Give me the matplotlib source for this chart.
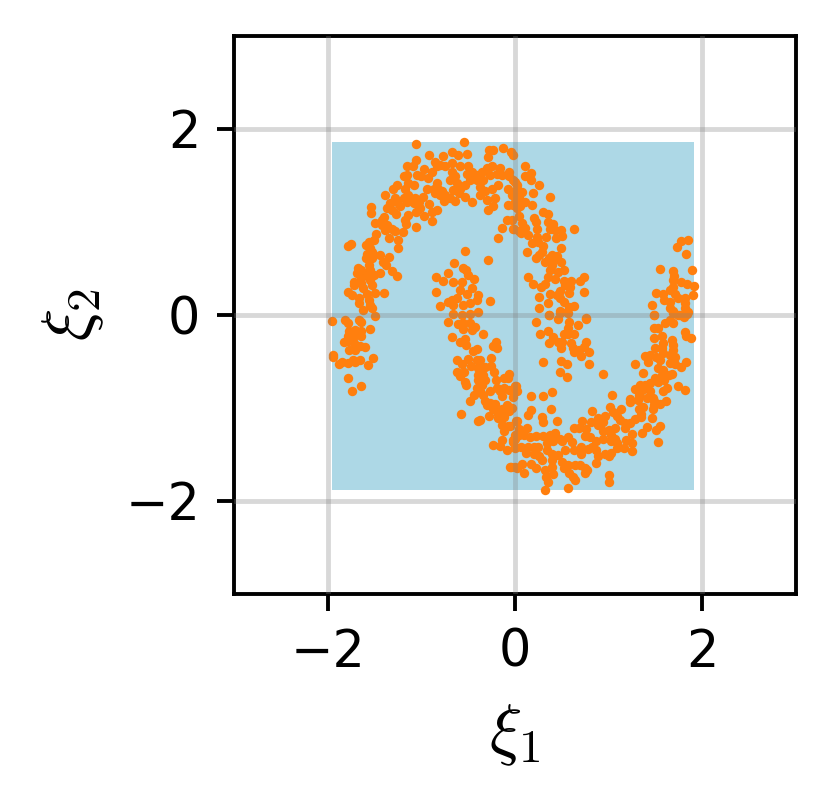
"""
Two moons sample drawn over the rectangular support of the data.
"""

import matplotlib
matplotlib.use('Agg')
import matplotlib.pyplot as plt
import matplotlib.patches as patches
import numpy as np

# Points, (xi_1, xi_2)
upper_left = [
    (-1.06,1.84),(-0.54,1.86),(-0.92,1.72),(-0.77,1.71),(-1.06,1.67),(-0.67,1.75),(-0.61,1.72),(-0.51,1.73),
    (-0.28,1.77),(-0.23,1.77),(-0.29,1.70),(-0.13,1.80),(-0.04,1.75),(-0.02,1.72),(-1.15,1.60),(-1.09,1.60),
    (-0.85,1.64),(-0.80,1.61),(-0.97,1.57),(-1.05,1.51),(-1.00,1.49),(-0.93,1.47),(-0.89,1.54),(-0.83,1.60),
    (-0.75,1.60),(-0.67,1.63),(-0.59,1.60),(-0.50,1.60),(-0.67,1.54),(-0.64,1.49),(-0.69,1.45),(-0.62,1.42),
    (-0.51,1.52),(-0.46,1.54),(-0.41,1.51),(-0.35,1.54),(-0.30,1.58),(-0.25,1.60),(-0.16,1.58),(-0.19,1.52),
    (-0.14,1.51),(-0.27,1.51),(-0.34,1.45),(-0.41,1.45),(-0.48,1.45),(-0.53,1.40),(-0.59,1.36),(-0.66,1.34),
    (-0.60,1.31),(-0.53,1.27),(-0.46,1.22),(-0.37,1.38),(-0.32,1.33),(-0.37,1.29),(-0.30,1.24),(-0.21,1.26),
    (-0.18,1.40),(-0.25,1.36),(-0.23,1.17),(-0.29,1.13),(-0.06,1.54),(-0.06,1.49),(0.00,1.43),(-0.07,1.36),
    (0.02,1.36),(-0.03,1.29),(0.00,1.22),(-0.07,1.18),(0.02,1.15),(-0.09,1.02),(-0.03,1.02),(-0.14,0.94),
    (-0.02,0.93),(-0.18,0.83),(0.04,0.90),(-1.15,1.51),(-1.19,1.49),(-1.14,1.42),(-1.08,1.40),(-1.26,1.40),
    (-1.30,1.35),(-1.39,1.29),(-0.94,1.36),(-0.83,1.42),(-0.87,1.36),(-0.82,1.36),(-0.85,1.31),(-0.78,1.33),
    (-0.75,1.29),(-0.80,1.29),(-0.76,1.23),(-0.69,1.26),(-0.64,1.23),(-1.17,1.35),(-1.14,1.29),(-1.19,1.26),
    (-1.12,1.26),(-1.07,1.26),(-1.15,1.22),(-1.08,1.20),(-1.03,1.22),(-0.98,1.27),(-0.92,1.19),(-1.01,1.15),
    (-1.06,1.11),(-0.89,1.11),(-0.83,1.13),(-0.97,1.06),(-0.89,1.01),(-1.14,1.08),(-1.17,1.02),(-1.16,0.98),
    (-1.06,0.95),(-1.28,1.26),(-1.33,1.20),(-1.26,1.22),(-1.23,1.17),(-1.37,1.15),(-1.31,1.13),(-1.27,1.09),
    (-1.40,1.05),(-1.54,1.16),(-1.54,1.10),(-1.50,0.99),(-1.42,1.02),(-1.42,0.97),(-1.37,0.97),(-1.39,0.91),
    (-1.31,0.93),(-1.28,0.90),(-1.20,0.89),(-1.35,0.83),(-1.25,0.81),(-1.25,0.72),(-1.48,0.87),(-1.51,0.81),
    (-1.56,0.79),(-1.59,0.75),(-1.55,0.72),(-1.75,0.76),(-1.78,0.74),(-1.58,0.66),(-1.53,0.68),(-1.53,0.61),
    (-1.59,0.61),(-1.44,0.64),(-1.35,0.62),(-1.41,0.57),(-1.38,0.54),(-1.56,0.54),(-1.68,0.51),(-1.64,0.48),
    (-1.55,0.48),(-1.31,0.47),(-1.26,0.42),(-1.69,0.45),(-1.58,0.43),(-1.51,0.43),(-1.44,0.45),(-1.64,0.40),
    (-1.55,0.38),(-1.72,0.36),(-1.64,0.34),(-1.53,0.32),(-1.72,0.32),(-1.62,0.29),(-1.78,0.25),(-1.74,0.22),
    (-1.58,0.23),(-1.49,0.24),(-1.40,0.24),(-1.67,0.18),(-1.56,0.16),(-1.67,0.13),(-1.55,0.11),(-1.62,0.05),
    (-1.53,0.07),(-1.50,-0.01),
]
upper_left_low = [
    (-1.95,-0.06),(-1.81,-0.05),(-1.78,-0.09),(-1.67,-0.05),(-1.64,-0.08),(-1.55,-0.15),(-1.77,-0.17),(-1.71,-0.16),
    (-1.64,-0.17),(-1.78,-0.23),(-1.72,-0.23),(-1.64,-0.23),(-1.83,-0.29),(-1.78,-0.28),(-1.72,-0.30),(-1.65,-0.33),
    (-1.60,-0.34),(-1.71,-0.38),(-1.77,-0.38),(-1.94,-0.43),(-1.94,-0.45),(-1.52,-0.46),(-1.65,-0.48),(-1.73,-0.48),
    (-1.85,-0.50),(-1.78,-0.52),(-1.71,-0.51),(-1.88,-0.53),(-1.57,-0.54),(-1.78,-0.68),(-1.64,-0.76),(-1.74,-0.82),
]
upper_right = [
    (0.11,1.60),(0.17,1.53),(0.11,1.49),(0.17,1.45),(0.26,1.40),(0.02,1.40),(-0.02,1.45),(0.08,1.32),
    (0.19,1.31),(0.37,1.27),(0.04,1.27),(0.11,1.22),(0.18,1.18),(0.05,1.17),(-0.02,1.18),(0.30,1.11),
    (0.35,1.09),(0.04,1.06),(0.20,1.04),(0.22,1.00),(0.35,1.00),(0.41,0.98),(0.07,0.99),(0.11,0.94),
    (-0.01,0.92),(0.06,0.88),(0.14,0.86),(0.23,0.92),(0.37,0.92),(0.43,0.91),(0.49,0.91),(0.63,0.92),
    (0.23,0.84),(0.33,0.84),(0.50,0.85),(0.44,0.83),(0.18,0.77),(0.25,0.78),(0.30,0.74),(0.49,0.72),
    (0.13,0.68),(0.29,0.68),(0.26,0.65),(0.22,0.61),(0.39,0.65),(0.45,0.63),(0.36,0.61),(0.41,0.59),
    (0.32,0.57),(0.49,0.57),(0.39,0.54),(0.37,0.48),(0.52,0.48),(0.46,0.46),(0.14,0.41),(0.35,0.41),
    (0.43,0.39),(0.74,0.41),(0.69,0.37),(0.52,0.37),(0.60,0.37),(0.19,0.33),(0.32,0.33),(0.28,0.30),
    (0.53,0.32),(0.59,0.30),(0.48,0.26),(0.37,0.23),(0.58,0.24),(0.74,0.25),(0.45,0.21),(0.26,0.19),
    (0.48,0.18),(0.52,0.14),(0.35,0.13),(0.26,0.08),(0.63,0.10),(0.58,0.09),(0.48,0.04),(0.36,0.00),
    (0.56,0.03),(0.76,-0.03),(0.22,-0.07),(0.36,-0.00),(0.48,0.02),(0.57,0.02),(0.58,-0.07),(0.67,-0.11),
    (0.76,-0.04),(0.46,-0.04),(0.35,-0.17),(0.27,-0.20),(0.57,-0.14),(0.52,-0.20),(0.57,-0.20),(0.63,-0.20),
    (0.41,-0.24),(0.36,-0.30),(0.46,-0.29),(0.50,-0.29),(0.49,-0.36),(0.60,-0.30),(0.62,-0.36),(0.76,-0.29),
    (0.74,-0.34),(0.68,-0.38),(0.63,-0.40),(0.70,-0.44),(0.79,-0.40),(0.30,-0.50),(0.49,-0.49),(0.56,-0.53),
    (0.79,-0.53),(0.48,-0.61),(0.56,-0.67),(0.94,-0.63),
]
inner_top = [
    (-0.53,0.69),(-0.29,0.59),(-0.65,0.56),(-0.56,0.51),(-0.52,0.48),(-0.71,0.45),(-0.84,0.41),(-0.77,0.37),
    (-0.50,0.43),(-0.44,0.39),(-0.66,0.35),(-0.57,0.36),(-0.84,0.25),(-0.46,0.29),(-0.59,0.27),(-0.51,0.23),
    (-0.62,0.18),(-0.67,0.16),(-0.71,0.14),(-0.39,0.22),(-0.41,0.16),(-0.27,0.15),(-0.48,0.13),(-0.55,0.11),
    (-0.66,0.11),(-0.80,0.10),(-0.66,0.01),(-0.57,0.00),(-0.48,0.01),(-0.39,0.03),
]
inner_low = [
    (-0.71,-0.07),(-0.61,-0.10),(-0.55,-0.09),(-0.48,-0.09),(-0.43,-0.13),(-0.55,-0.15),(-0.46,-0.16),(-0.34,-0.20),
    (-0.67,-0.24),(-0.59,-0.29),(-0.53,-0.26),(-0.52,-0.32),(-0.20,-0.29),(-0.23,-0.33),(-0.19,-0.35),(-0.41,-0.37),
    (-0.45,-0.39),(-0.50,-0.47),(-0.62,-0.48),(-0.57,-0.53),(-0.41,-0.48),(-0.37,-0.48),(-0.26,-0.46),(-0.47,-0.55),
    (-0.26,-0.55),(-0.32,-0.56),(-0.39,-0.57),(-0.62,-0.61),(-0.54,-0.61),(-0.59,-0.66),(-0.22,-0.61),(-0.39,-0.65),
    (-0.34,-0.65),(-0.06,-0.63),(-0.39,-0.70),(-0.32,-0.70),(-0.12,-0.68),(-0.08,-0.68),(-0.20,-0.70),(-0.53,-0.72),
    (-0.52,-0.75),(-0.35,-0.75),(-0.41,-0.78),(-0.19,-0.78),(-0.12,-0.78),(-0.06,-0.81),(0.01,-0.76),(0.02,-0.82),
    (-0.37,-0.82),(-0.27,-0.82),(-0.16,-0.82),(-0.44,-0.86),(-0.34,-0.86),(-0.14,-0.87),(-0.02,-0.88),(-0.48,-0.93),
    (-0.32,-0.93),(-0.27,-0.95),(-0.21,-0.96),(-0.09,-0.97),(-0.30,-0.97),(-0.24,-1.01),(-0.14,-1.01),(-0.03,-1.00),
    (-0.06,-1.03),(-0.58,-1.06),(-0.28,-1.09),(-0.18,-1.06),(-0.12,-1.10),(-0.18,-1.11),(-0.37,-1.13),(-0.40,-1.14),
    (0.02,-1.14),(-0.14,-1.18),(-0.07,-1.19),(-0.12,-1.25),(0.04,-1.24),(-0.14,-1.34),(0.00,-1.33),(0.04,-1.29),
    (-0.02,-1.37),(-0.23,-1.40),(-0.16,-1.41),(-0.09,-1.45),(0.00,-1.42),(-0.04,-1.63),(0.02,-1.65),
]
bottom_band = [
    (0.00,-0.76),(-0.02,-0.82),(0.17,-0.87),(0.30,-0.87),(0.40,-0.83),(-0.04,-1.00),(0.17,-1.02),(0.14,-1.07),
    (0.38,-1.01),(0.29,-1.10),(0.30,-1.15),(0.01,-1.14),(0.45,-1.14),(-0.05,-1.19),(0.04,-1.23),(0.13,-1.22),
    (0.05,-1.28),(0.10,-1.29),(0.16,-1.31),(0.00,-1.29),(0.22,-1.30),(0.30,-1.30),(0.37,-1.29),(0.43,-1.27),
    (0.48,-1.33),(0.57,-1.31),(0.50,-1.36),(0.41,-1.36),(0.34,-1.38),(0.25,-1.42),(0.20,-1.42),(0.14,-1.42),
    (0.06,-1.42),(-0.02,-1.34),(0.00,-1.43),(0.12,-1.48),(0.20,-1.49),(0.26,-1.52),(0.34,-1.45),(0.39,-1.49),
    (0.46,-1.50),(0.53,-1.45),(0.61,-1.37),(0.63,-1.45),(0.70,-1.49),(0.70,-1.42),(0.78,-1.44),(0.63,-1.22),
    (0.68,-1.22),(0.76,-1.23),(0.71,-1.14),(0.82,-1.03),(0.81,-1.15),(0.75,-1.30),(0.80,-1.31),(0.86,-1.36),
    (0.82,-1.42),(0.87,-1.45),(0.89,-1.52),(0.87,-1.59),(0.96,-1.49),(1.00,-1.52),(1.03,-1.48),(0.89,-1.11),
    (0.96,-1.09),(0.89,-1.18),(0.94,-1.15),(1.01,-0.99),(1.05,-1.04),(1.09,-1.09),(1.13,-1.01),(1.04,-0.86),
    (1.12,-1.13),(1.17,-1.16),(1.17,-1.22),(1.23,-1.16),(1.28,-1.12),(0.94,-1.25),(1.00,-1.24),(1.07,-1.22),
    (1.03,-1.29),(0.94,-1.33),(1.07,-1.33),(1.09,-1.38),(1.03,-1.36),(1.16,-1.43),(1.09,-1.43),(1.18,-1.34),
    (1.25,-1.28),(1.25,-1.38),(1.25,-1.46),(1.36,-1.27),(1.41,-1.20),(1.35,-1.06),(1.35,-1.10),(1.32,-1.01),
    (1.37,-0.99),(1.47,-1.01),(1.48,-0.97),(1.46,-1.11),(1.51,-1.24),(1.55,-1.19),(1.53,-1.37),(0.07,-1.60),
    (0.00,-1.63),(-0.05,-1.63),(0.10,-1.70),(0.17,-1.60),(0.22,-1.64),(0.29,-1.56),(0.39,-1.56),(0.39,-1.63),
    (0.32,-1.67),(0.33,-1.74),(0.41,-1.71),(0.35,-1.80),(0.32,-1.88),(0.50,-1.58),(0.52,-1.64),(0.57,-1.61),
    (0.64,-1.61),(0.69,-1.61),(0.58,-1.70),(0.62,-1.74),(0.64,-1.77),(0.75,-1.65),(0.77,-1.67),(0.75,-1.70),
    (1.00,-1.72),(1.00,-1.80),(0.57,-1.86),
]
right_arc = [
    (1.28,-0.53),(1.37,-0.62),(1.39,-0.44),(1.44,-0.43),(1.42,-0.50),(1.49,-0.36),(1.51,-0.45),(1.57,-0.23),
    (1.48,-0.25),(1.58,-0.30),(1.57,-0.36),(1.58,-0.41),(1.55,-0.48),(1.53,-0.57),(1.58,-0.59),(1.57,-0.65),
    (1.49,-0.68),(1.53,-0.72),(1.59,-0.70),(1.44,-0.73),(1.39,-0.75),(1.33,-0.75),(1.28,-0.80),(1.36,-0.81),
    (1.44,-0.82),(1.32,-0.86),(1.23,-0.90),(1.31,-0.91),(1.23,-0.94),(1.41,-0.89),(1.47,-0.89),(1.48,-0.93),
    (1.58,-0.82),(1.62,-0.78),(1.61,-0.92),(1.55,-0.96),(1.74,-0.76),(1.81,-0.81),(1.68,-0.63),(1.64,-0.65),
    (1.71,-0.53),(1.77,-0.56),(1.83,-0.50),(1.65,-0.52),(1.71,-0.45),(1.65,-0.43),(1.69,-0.38),(1.69,-0.32),
    (1.68,-0.27),(1.81,-0.18),(1.83,-0.23),(1.88,-0.25),(1.48,-0.14),(1.53,-0.14),(1.48,0.00),(1.60,-0.09),
    (1.65,-0.05),(1.69,-0.09),(1.69,0.04),(1.74,0.00),(1.80,-0.02),(1.85,0.03),(1.85,0.81),(1.77,0.80),
    (1.73,0.73),(1.83,0.66),(1.55,0.50),(1.89,0.48),(1.69,0.47),(1.70,0.42),(1.69,0.38),(1.77,0.35),
    (1.84,0.33),(1.91,0.31),(1.69,0.30),(1.66,0.27),(1.50,0.24),(1.58,0.23),(1.71,0.23),(1.90,0.22),
    (1.74,0.18),(1.82,0.18),(1.59,0.16),(1.65,0.14),(1.82,0.13),(1.46,0.11),(1.65,0.07),(1.82,0.07),
    (1.48,0.00),(1.69,0.02),(1.76,0.00),(1.84,0.01),
]

ticks = [-2, 0, 2]

plt.rcParams['mathtext.fontset'] = 'cm'

points = np.array(upper_left + upper_left_low + upper_right + inner_top + inner_low + bottom_band + right_arc)

DPI = 348
fig = plt.figure(figsize=(832 / DPI, 803 / DPI), dpi=DPI)
ax = fig.add_axes([234 / 832, 209 / 803, 562 / 832, 558 / 803])

# Support of the sample
x_lo, y_lo = points.min(axis=0)
x_hi, y_hi = points.max(axis=0)
rect = patches.Rectangle((x_lo, y_lo), x_hi - x_lo, y_hi - y_lo,
                         facecolor='lightblue', edgecolor='none', zorder=1)
ax.add_patch(rect)

ax.scatter(points[:, 0], points[:, 1], s=3.8, color='tab:orange', linewidths=0, zorder=2)

ax.set_xlim(-3, 3)
ax.set_ylim(-3, 3)
ax.set_xticks(ticks)
ax.set_yticks(ticks)
ax.tick_params(labelsize=10.5)
ax.grid(True, color='gray', alpha=0.3, linewidth=1, zorder=3)
ax.set_axisbelow(False)

ax.set_xlabel(r'$\xi_1$', fontsize=14, labelpad=5)
ax.set_ylabel(r'$\xi_2$', fontsize=14, labelpad=4)

fig.savefig('out.png', dpi=DPI)
